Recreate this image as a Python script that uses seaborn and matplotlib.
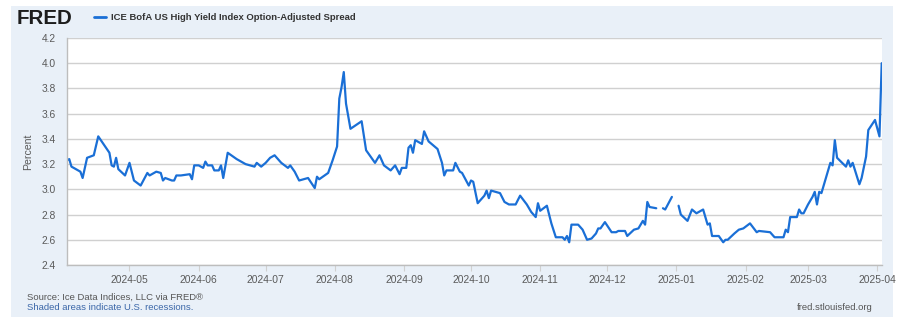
import numpy as np
import pandas as pd
import matplotlib
matplotlib.use("Agg")
import matplotlib.pyplot as plt
from matplotlib.lines import Line2D
from matplotlib.patches import Rectangle
import seaborn as sns

# ---------------- data ----------------
dates = [
    "2024-04-03", "2024-04-04", "2024-04-05", "2024-04-09", "2024-04-10", "2024-04-12",
    "2024-04-15", "2024-04-17", "2024-04-22", "2024-04-23", "2024-04-24", "2024-04-25",
    "2024-04-26", "2024-04-29", "2024-05-01", "2024-05-03", "2024-05-06", "2024-05-09",
    "2024-05-10", "2024-05-13", "2024-05-15", "2024-05-16", "2024-05-17", "2024-05-20",
    "2024-05-21", "2024-05-22", "2024-05-24", "2024-05-28", "2024-05-29", "2024-05-30",
    "2024-06-01", "2024-06-03", "2024-06-04", "2024-06-05", "2024-06-07", "2024-06-08",
    "2024-06-10", "2024-06-11", "2024-06-12", "2024-06-14", "2024-06-18", "2024-06-20",
    "2024-06-22", "2024-06-26", "2024-06-27", "2024-06-29", "2024-07-01", "2024-07-03",
    "2024-07-05", "2024-07-08", "2024-07-11", "2024-07-12", "2024-07-14", "2024-07-16",
    "2024-07-20", "2024-07-23", "2024-07-24", "2024-07-25", "2024-07-29", "2024-07-31",
    "2024-08-02", "2024-08-03", "2024-08-04", "2024-08-05", "2024-08-06", "2024-08-08",
    "2024-08-13", "2024-08-15", "2024-08-19", "2024-08-21", "2024-08-23", "2024-08-26",
    "2024-08-28", "2024-08-30", "2024-08-31", "2024-09-02", "2024-09-03", "2024-09-04",
    "2024-09-05", "2024-09-06", "2024-09-09", "2024-09-10", "2024-09-12", "2024-09-16",
    "2024-09-18", "2024-09-19", "2024-09-20", "2024-09-23", "2024-09-24", "2024-09-26",
    "2024-09-27", "2024-09-30", "2024-10-01", "2024-10-02", "2024-10-04", "2024-10-07",
    "2024-10-08", "2024-10-09", "2024-10-10", "2024-10-14", "2024-10-16", "2024-10-18",
    "2024-10-21", "2024-10-23", "2024-10-26", "2024-10-28", "2024-10-30", "2024-10-31",
    "2024-11-01", "2024-11-04", "2024-11-06", "2024-11-08", "2024-11-11", "2024-11-12",
    "2024-11-13", "2024-11-14", "2024-11-15", "2024-11-18", "2024-11-20", "2024-11-22",
    "2024-11-24", "2024-11-26", "2024-11-27", "2024-11-28", "2024-11-30", "2024-12-03",
    "2024-12-05", "2024-12-06", "2024-12-09", "2024-12-10", "2024-12-13", "2024-12-15",
    "2024-12-17", "2024-12-18", "2024-12-19", "2024-12-20", "2024-12-23", "2024-12-24",
    "2024-12-26", "2024-12-27", "2024-12-30", "2024-12-31", "2025-01-02", "2025-01-03",
    "2025-01-06", "2025-01-08", "2025-01-10", "2025-01-13", "2025-01-15", "2025-01-16",
    "2025-01-17", "2025-01-20", "2025-01-22", "2025-01-23", "2025-01-24", "2025-01-27",
    "2025-01-29", "2025-01-31", "2025-02-03", "2025-02-06", "2025-02-07", "2025-02-12",
    "2025-02-13", "2025-02-14", "2025-02-18", "2025-02-19", "2025-02-20", "2025-02-21",
    "2025-02-24", "2025-02-25", "2025-02-26", "2025-02-27", "2025-03-01", "2025-03-03",
    "2025-03-04", "2025-03-05", "2025-03-06", "2025-03-07", "2025-03-11", "2025-03-12",
    "2025-03-13", "2025-03-14", "2025-03-18", "2025-03-19", "2025-03-20", "2025-03-21",
    "2025-03-24", "2025-03-25", "2025-03-27", "2025-03-28", "2025-03-31", "2025-04-02",
    "2025-04-03",
]
spread = [
    3.23, 3.24, 3.18, 3.14, 3.09, 3.25,
    3.27, 3.42, 3.29, 3.19, 3.18, 3.25,
    3.16, 3.11, 3.21, 3.07, 3.03, 3.13,
    3.11, 3.14, 3.13, 3.07, 3.09, 3.07,
    3.07, 3.11, 3.11, 3.12, 3.08, 3.19,
    3.19, 3.17, 3.22, 3.19, 3.19, 3.15,
    3.15, 3.19, 3.09, 3.29, 3.24, 3.22,
    3.20, 3.18, 3.21, 3.18, 3.21, 3.25,
    3.27, 3.21, 3.17, 3.19, 3.14, 3.07,
    3.09, 3.01, 3.10, 3.08, 3.13, 3.23,
    3.34, 3.72, 3.81, 3.93, 3.68, 3.48,
    3.54, 3.31, 3.21, 3.27, 3.19, 3.15,
    3.19, 3.12, 3.17, 3.17, 3.33, 3.35,
    3.29, 3.39, 3.36, 3.46, 3.38, 3.32,
    3.21, 3.11, 3.15, 3.15, 3.21, 3.14,
    3.13, 3.03, 3.07, 3.06, 2.89, 2.95,
    2.99, 2.93, 2.99, 2.97, 2.90, 2.88,
    2.88, 2.95, 2.88, 2.82, 2.78, 2.89,
    2.83, 2.87, 2.73, 2.62, 2.62, 2.60,
    2.63, 2.58, 2.72, 2.72, 2.68, 2.60,
    2.61, 2.65, 2.69, 2.69, 2.74, 2.66,
    2.66, 2.67, 2.67, 2.63, 2.68, 2.69,
    2.75, 2.72, 2.90, 2.86, 2.85, np.nan,
    2.85, 2.84, 2.94, np.nan, 2.87, 2.80,
    2.75, 2.84, 2.81, 2.84, 2.72, 2.73,
    2.63, 2.63, 2.58, 2.60, 2.60, 2.65,
    2.68, 2.69, 2.73, 2.66, 2.67, 2.66,
    2.64, 2.62, 2.62, 2.68, 2.66, 2.78,
    2.78, 2.84, 2.81, 2.81, 2.88, 2.94,
    2.98, 2.88, 2.98, 2.97, 3.21, 3.19,
    3.39, 3.25, 3.18, 3.23, 3.18, 3.21,
    3.04, 3.09, 3.26, 3.47, 3.55, 3.42,
    4.00,
]
series_name = "ICE BofA US High Yield Index Option-Adjusted Spread"
y_ticks = [2.4, 2.6, 2.8, 3.0, 3.2, 3.4, 3.6, 3.8, 4.0, 4.2]
x_range = ["2024-04-03", "2025-04-03"]

df = pd.DataFrame({"date": pd.to_datetime(dates), "spread": spread})
df["segment"] = df["spread"].isna().cumsum()
df = df.dropna()

# ---------------- styling ----------------
sns.set_theme(style="white")
plt.rcParams["font.family"] = ["Liberation Sans", "DejaVu Sans"]

W, H = 907, 322
fig = plt.figure(figsize=(W / 100, H / 100), dpi=100)
fig.patch.set_facecolor("white")

panel_col = "#e9f0f8"
fig.patches.append(Rectangle((11 / W, 5 / H), (893 - 11) / W, (316 - 5) / H,
                             transform=fig.transFigure, facecolor=panel_col,
                             edgecolor="none", zorder=-10))

ax = fig.add_axes([67 / W, 1 - 265 / H, (881.7 - 67) / W, (265 - 38) / H])
ax.set_zorder(1)
ax.set_facecolor("white")

line_col = "#1a6fd6"
sns.lineplot(data=df, x="date", y="spread", units="segment", estimator=None,
             color=line_col, linewidth=1.6, ax=ax, legend=False)

ax.set_xlim(pd.to_datetime(x_range[0]), pd.to_datetime(x_range[1]))
ax.set_ylim(y_ticks[0], y_ticks[-1])
ax.set_yticks(y_ticks)
ax.set_yticklabels([f"{t:.1f}" for t in y_ticks])
ax.yaxis.grid(True, color="#d0d0d0", linewidth=1.0)
ax.set_axisbelow(True)

xt = list(pd.date_range("2024-05-01", "2025-04-01", freq="MS"))
ax.set_xticks(xt)
ax.set_xticklabels([t.strftime("%Y-%m") for t in xt])

for s in ["top", "right"]:
    ax.spines[s].set_visible(False)
ax.spines["left"].set_color("#bdbdbd")
ax.spines["bottom"].set_color("#bdbdbd")
ax.spines["left"].set_linewidth(1.0)
ax.spines["bottom"].set_linewidth(1.0)

ax.tick_params(axis="y", length=0, pad=8, labelsize=7.4, labelcolor="#5a5a5a")
ax.tick_params(axis="x", length=4, width=0.8, color="#d0d0d0", pad=3,
               labelsize=7.4, labelcolor="#5a5a5a", bottom=True)
ax.set_xlabel("")
ax.set_ylabel("Percent", fontsize=7.6, color="#5a5a5a", labelpad=6)

# header
fig.text(17 / W, 1 - 18 / H, "FRED", fontsize=14.8, fontweight="bold", color="#1d1d1d",
         va="center", ha="left")
handle = Line2D([], [], color=line_col, linewidth=2.0)
fig.legend([handle], [series_name], loc="center left",
           bbox_to_anchor=(94 / W, 1 - 18 / H), frameon=False, handlelength=1.3,
           handletextpad=0.5, borderaxespad=0, borderpad=0,
           prop={"size": 6.8, "weight": "bold"}, labelcolor="#333333")

# footer
fig.text(27 / W, 1 - 297 / H, "Source: Ice Data Indices, LLC via FRED\u00ae", fontsize=6.8,
         color="#555555", va="center", ha="left")
fig.text(27 / W, 1 - 308 / H, "Shaded areas indicate U.S. recessions.", fontsize=6.8,
         color="#3a66a8", va="center", ha="left")
fig.text(873 / W, 1 - 308 / H, "fred.stlouisfed.org", fontsize=6.8,
         color="#555555", va="center", ha="right")

fig.savefig("out.png", dpi=100, facecolor=fig.get_facecolor())
